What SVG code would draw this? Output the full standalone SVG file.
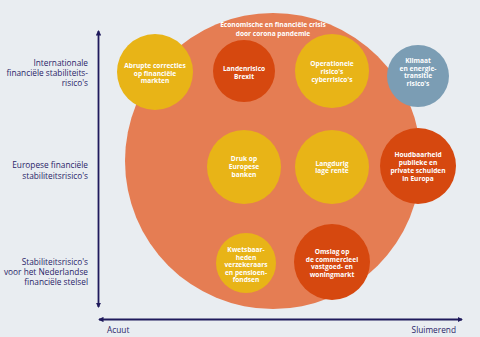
<svg xmlns="http://www.w3.org/2000/svg" width="480" height="337" viewBox="0 0 480 337">
<style>
.lbl{font-family:"Open Sans","Noto Sans",sans-serif;font-size:8.3px;fill:#2a2468;text-anchor:end}
.ax{font-family:"Open Sans","Noto Sans",sans-serif;font-size:8.3px;fill:#2a2468}
.ct{font-family:"Open Sans","Noto Sans",sans-serif;font-size:6.6px;font-weight:bold;fill:#ffffff;text-anchor:middle}
.tt{font-family:"Open Sans","Noto Sans",sans-serif;font-size:6.6px;font-weight:bold;fill:#ffffff;text-anchor:middle}
.yel{fill:#e8b417}
.red{fill:#d6480f}
.blu{fill:#7b9db4}
.axis{stroke:#1f1a5c;stroke-width:1.8;fill:none}
</style>
<defs>
<marker id="ah" viewBox="0 0 6 6" refX="5" refY="3" markerWidth="3" markerHeight="3" orient="auto-start-reverse" markerUnits="strokeWidth">
<path d="M0,0 L6,3 L0,6 Z" fill="#1f1a5c"/>
</marker>
</defs>
<rect width="480" height="337" fill="#e9edf1"/>
<g id="crisis">
<circle cx="273" cy="161" r="148" fill="#e57d53"/>
<text class="tt" x="273" y="27.3">Economische en financiële crisis</text>
<text class="tt" x="273" y="35.9">door corona pandemie</text>
</g>
<g id="connectors">
<line class="axis" x1="98.5" y1="307" x2="98.5" y2="31" marker-start="url(#ah)" marker-end="url(#ah)"/>
<line class="axis" x1="99" y1="319.5" x2="462" y2="319.5" marker-start="url(#ah)" marker-end="url(#ah)"/>
</g>
<g id="label-internationaal">
<text class="lbl" x="88" y="65.5">Internationale</text>
<text class="lbl" x="88" y="75.5">financiële stabiliteits-</text>
<text class="lbl" x="88" y="85.5">risico's</text>
</g>
<g id="label-europees">
<text class="lbl" x="88" y="168">Europese financiële</text>
<text class="lbl" x="88" y="178.5">stabiliteitsrisico's</text>
</g>
<g id="label-nederland">
<text class="lbl" x="88" y="264.5">Stabiliteitsrisico's</text>
<text class="lbl" x="88" y="274.5">voor het Nederlandse</text>
<text class="lbl" x="88" y="285">financiële stelsel</text>
</g>
<g id="label-acuut"><text class="ax" x="107" y="333">Acuut</text></g>
<g id="label-sluimerend"><text class="ax" x="456" y="333" text-anchor="end">Sluimerend</text></g>
<g id="abrupte">
<circle class="yel" cx="155" cy="72" r="38"/>
<text class="ct" x="155" y="68.3">Abrupte correcties</text>
<text class="ct" x="155" y="75.8">op financiële</text>
<text class="ct" x="155" y="83.3">markten</text>
</g>
<g id="brexit">
<circle class="red" cx="244" cy="71" r="31"/>
<text class="ct" x="244" y="71.3">Landenrisico</text>
<text class="ct" x="244" y="78.8">Brexit</text>
</g>
<g id="operationeel">
<circle class="yel" cx="332" cy="71" r="37"/>
<text class="ct" x="332" y="66.3">Operationele</text>
<text class="ct" x="332" y="74">risico's</text>
<text class="ct" x="332" y="81.6">cyberrisico's</text>
</g>
<g id="klimaat">
<circle class="blu" cx="418" cy="76" r="31"/>
<text class="ct" x="418" y="63">Klimaat</text>
<text class="ct" x="418" y="70.6">en energie-</text>
<text class="ct" x="418" y="78.2">transitie</text>
<text class="ct" x="418" y="85.8">risico's</text>
</g>
<g id="druk">
<circle class="yel" cx="244" cy="167" r="37"/>
<text class="ct" x="244" y="161.3">Druk op</text>
<text class="ct" x="244" y="168.9">Europese</text>
<text class="ct" x="244" y="176.5">banken</text>
</g>
<g id="rente">
<circle class="yel" cx="332" cy="167" r="37"/>
<text class="ct" x="332" y="165.6">Langdurig</text>
<text class="ct" x="332" y="173.3">lage rente</text>
</g>
<g id="houdbaarheid">
<circle class="red" cx="418" cy="166" r="38"/>
<text class="ct" x="418" y="157.3">Houdbaarheid</text>
<text class="ct" x="418" y="165.1">publieke en</text>
<text class="ct" x="418" y="173.1">private schulden</text>
<text class="ct" x="418" y="181.1">in Europa</text>
</g>
<g id="kwetsbaarheden">
<circle class="yel" cx="246" cy="263" r="30"/>
<text class="ct" x="246" y="252.3">Kwetsbaar-</text>
<text class="ct" x="246" y="259.8">heden</text>
<text class="ct" x="246" y="267.3">verzekeraars</text>
<text class="ct" x="246" y="274.8">en pensioen-</text>
<text class="ct" x="246" y="282.3">fondsen</text>
</g>
<g id="omslag">
<circle class="red" cx="332" cy="262" r="38"/>
<text class="ct" x="332" y="254">Omslag op</text>
<text class="ct" x="332" y="261.6">de commercieel</text>
<text class="ct" x="332" y="269.2">vastgoed- en</text>
<text class="ct" x="332" y="276.8">woningmarkt</text>
</g>
</svg>
